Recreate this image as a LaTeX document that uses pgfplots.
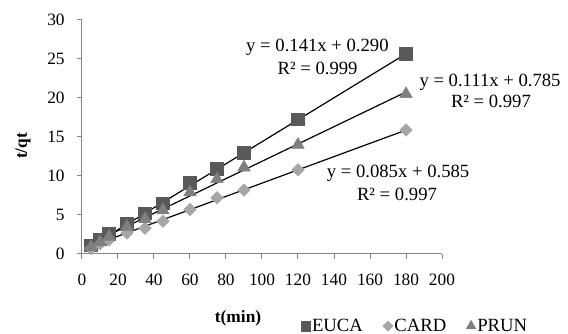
\documentclass[border=0pt]{standalone}
\usepackage{pgfplots}
\pgfplotsset{compat=1.18}
\usepackage{fontspec}
\setmainfont{Liberation Serif}
\definecolor{euca}{HTML}{595959}
\definecolor{card}{HTML}{A6A6A6}
\definecolor{prun}{HTML}{7F7F7F}
\definecolor{axgray}{HTML}{868686}
\begin{document}
\begin{tikzpicture}
\useasboundingbox (-61.5pt,-60pt) rectangle (364.5pt,190.5pt);
\begin{axis}[
  at={(0,0)}, anchor=south west, scale only axis,
  width=270pt, height=175.5pt,
  xmin=0, xmax=200, ymin=0, ymax=30,
  xtick={0,20,...,200}, ytick={0,5,...,30},
  axis lines*=left,
  axis line style={draw=axgray, line width=0.75pt, -},
  tick style={draw=axgray, line width=0.75pt},
  tick align=outside, major tick length=3.5pt,
  ticklabel style={font=\fontsize{13}{15}\selectfont},
  xticklabel style={yshift=-8pt},
  yticklabel style={xshift=-6pt},
  /pgf/number format/assume math mode=true,
  clip=false,
  legend columns=3,
  legend style={at={(0.924,-0.308)}, anchor=center, draw=none, fill=none,
    font=\fontsize{14}{16}\selectfont,
    /tikz/every even column/.append style={column sep=14pt},
    nodes={inner sep=1pt}},
  legend image code/.code={\draw[#1] plot coordinates {(0pt,0pt)};},
]
\addplot[only marks, mark=square*, mark size=4.7pt, draw=euca, fill=euca, mark options={draw=euca, fill=euca},
  legend image post style={mark size=3.7pt}]
 coordinates {(5,1.1) (10,1.9) (15,2.6) (25,3.9) (35,5.2) (45,6.5) (60,9.1) (75,10.9) (90,13.0) (120,17.3) (180,25.7)};
\addlegendentry{EUCA}
\addplot[only marks, mark=square*, mark size=3.3pt, draw=card, fill=card, mark options={draw=card, fill=card, rotate=45},
  legend image post style={mark size=2.7pt}]
 coordinates {(5,0.7) (10,1.3) (15,1.8) (25,2.7) (35,3.3) (45,4.2) (60,5.7) (75,7.2) (90,8.2) (120,10.8) (180,15.9)};
\addlegendentry{CARD}
\addplot[only marks, mark=triangle*, mark size=5.4pt, draw=prun, fill=prun, mark options={draw=prun, fill=prun},
  legend image post style={mark size=4.2pt}]
 coordinates {(5,0.9) (10,1.5) (15,2.2) (25,3.5) (35,4.5) (45,5.6) (60,7.9) (75,9.6) (90,11.1) (120,14.0) (180,20.5)};
\addlegendentry{PRUN}
\addplot[black, line width=0.9pt, forget plot] coordinates {(5,0.995) (180,25.67)};
\addplot[black, line width=0.9pt, forget plot] coordinates {(5,1.01) (180,15.885)};
\addplot[black, line width=0.9pt, forget plot] coordinates {(5,1.34) (180,20.765)};
\begin{scope}[every node/.style={font=\fontsize{14}{16}\selectfont, inner sep=0pt}]
\node at (axis cs:130.8,26.5) {y = 0.141x + 0.290};
\node at (axis cs:130.9,23.85) {R² = 0.999};
\node at (axis cs:226.7,22.05) {y = 0.111x + 0.785};
\node at (axis cs:227.2,19.6) {R² = 0.997};
\node at (axis cs:175.6,10.4) {y = 0.085x + 0.585};
\node at (axis cs:175,7.7) {R² = 0.997};
\node[font=\fontsize{13}{15}\selectfont\bfseries] at (axis cs:86.7,-8.3) {t(min)};
\node[font=\fontsize{13}{15}\selectfont\bfseries, rotate=90] at (axis cs:-32.8,13.85) {t/qt};
\end{scope}
\end{axis}
\end{tikzpicture}
\end{document}
